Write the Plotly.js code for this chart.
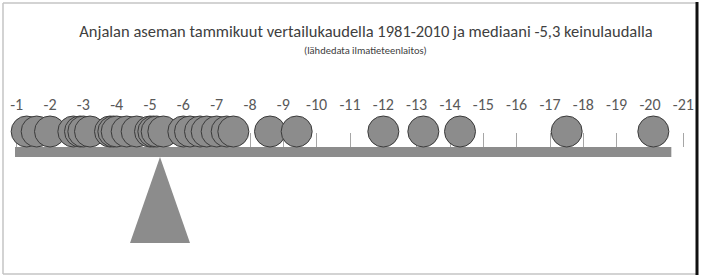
<!DOCTYPE html>
<html>
<head>
<meta charset="utf-8">
<script src="https://cdn.plot.ly/plotly-3.0.1.min.js"></script>
<style>html,body{margin:0;padding:0;background:#fff;}#chart{width:712px;height:278px;}</style>
</head>
<body>
<div id="chart"></div>
<script>
// January mean temperatures at Anjala, 1981-2010 (°C)
const januaryTemps = [-1.3, -1.6, -2.0, -2.7, -2.9, -3.0, -3.2, -3.8, -3.9, -4.0, -4.3, -4.6,
  -5.0, -5.1, -5.2, -5.4, -6.0, -6.2, -6.5, -6.7, -7.0, -7.3, -7.5, -8.6, -9.4, -12.0,
  -13.2, -14.3, -17.5, -20.1];
const tickValues = [-1,-2,-3,-4,-5,-6,-7,-8,-9,-10,-11,-12,-13,-14,-15,-16,-17,-18,-19,-20,-21];
const tickLabels = ['-1','-2','-3','-4','-5','-6','-7','-8','-9','-10','-11','-12','-13','-14','-15','-16','-17','-18','-19','-20','-21'];
const titleText = 'Anjalan aseman tammikuut vertailukaudella 1981-2010 ja mediaani -5,3 keinulaudalla';
const subtitleText = '(lähdedata ilmatieteenlaitos)';

const sorted = januaryTemps.slice().sort((a, b) => b - a);
const asc = januaryTemps.slice().sort((a, b) => a - b);
const n = asc.length;
const median = n % 2 ? asc[(n - 1) / 2] : (asc[n / 2 - 1] + asc[n / 2]) / 2;

const W = 712, H = 278, PW = 700;
const GRAY = '#8c8c8c';
const FONT = "Carlito, 'Liberation Sans Narrow', 'Open Sans', sans-serif";
const plankTop = 147, plankBottom = 157, ballR = 15.5;

const balls = {
  type: 'scatter', mode: 'markers',
  x: sorted, y: sorted.map(() => plankTop - ballR),
  marker: {symbol: 'circle', size: 2 * ballR, color: GRAY, line: {color: '#3a3a3a', width: 1}},
  hoverinfo: 'x', showlegend: false
};
const fulcrum = {
  type: 'scatter', mode: 'lines', fill: 'toself',
  x: [median, median - 0.9, median + 0.9, median],
  y: [plankBottom, 243, 243, plankBottom],
  line: {width: 0, color: GRAY}, fillcolor: GRAY, hoverinfo: 'skip', showlegend: false
};

const px = v => v / PW;
const layout = {
  width: W, height: H,
  margin: {l: 0, r: W - PW, t: 0, b: 0},
  paper_bgcolor: '#fff', plot_bgcolor: '#fff',
  showlegend: false,
  title: {text: titleText, x: 366 / W, xanchor: 'center', y: 1 - 31 / H, yanchor: 'middle',
          font: {family: FONT, size: 16.5, color: '#404040'}},
  annotations: [{text: subtitleText, xref: 'paper', yref: 'y', x: px(365), y: 50,
                 showarrow: false, xanchor: 'center', yanchor: 'middle',
                 font: {family: FONT, size: 10.5, color: '#404040'}}],
  xaxis: {
    range: [-0.5, -21.5], anchor: 'free', position: (H - plankTop) / H, side: 'top',
    tickmode: 'array', tickvals: tickValues, ticktext: tickLabels,
    ticks: 'outside', ticklen: 14, tickwidth: 1, tickcolor: '#a6a6a6',
    ticklabelstandoff: 17,
    tickfont: {family: FONT, size: 16, color: '#595959'},
    showgrid: false, zeroline: false, showline: false, layer: 'below traces', fixedrange: true
  },
  yaxis: {range: [H, 0], visible: false, showgrid: false, zeroline: false, fixedrange: true},
  shapes: [
    {type: 'rect', xref: 'x', yref: 'y', x0: -0.95, x1: -20.64, y0: plankTop, y1: plankBottom,
     fillcolor: GRAY, line: {width: 0}, layer: 'below'},
    {type: 'line', xref: 'paper', yref: 'y', x0: px(3), x1: px(3), y0: 3, y1: 274, line: {color: '#c4c4c4', width: 1.5}},
    {type: 'line', xref: 'paper', yref: 'y', x0: px(3), x1: px(697), y0: 3, y1: 3, line: {color: '#c4c4c4', width: 1.5}},
    {type: 'line', xref: 'paper', yref: 'y', x0: px(3), x1: px(697), y0: 274, y1: 274, line: {color: '#c4c4c4', width: 1.5}},
    {type: 'line', xref: 'paper', yref: 'y', x0: px(697), x1: px(697), y0: 2, y1: 275, line: {color: '#111', width: 3}}
  ]
};
Plotly.newPlot('chart', [fulcrum, balls], layout, {displayModeBar: false, staticPlot: true});
</script>
</body>
</html>
